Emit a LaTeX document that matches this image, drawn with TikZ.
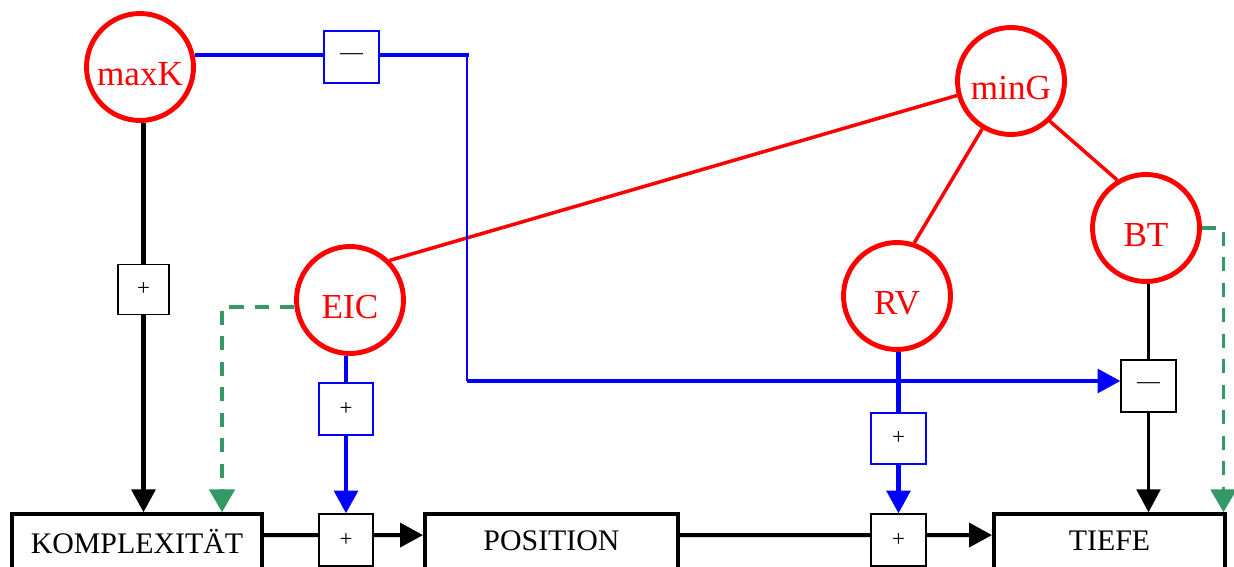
\documentclass[tikz,border=0pt]{standalone}
\usepackage{fontspec}
\setmainfont{Liberation Serif}
\usetikzlibrary{arrows.meta}
\definecolor{goalred}{RGB}{255,0,0}
\definecolor{inflblue}{RGB}{0,0,255}
\definecolor{feedgreen}{RGB}{52,153,102}
\tikzset{
  goal/.style={circle, draw=goalred, line width=2.8pt, text=goalred, minimum size=2.14cm, inner sep=0pt, font=\fontsize{20}{24}\selectfont, text height=21pt, text depth=0pt},
  stage/.style={rectangle, draw, line width=2pt, minimum height=1.3cm, inner sep=0pt, font=\fontsize{17}{20}\selectfont, text depth=6.2pt},
  sign/.style={rectangle, draw, line width=1pt, minimum width=1.09cm, minimum height=1.03cm, inner sep=0pt, font=\fontsize{13}{15}\selectfont},
  bsign/.style={sign, draw=inflblue},
  arr/.style={-{Triangle[length=13pt, width=13.5pt]}},
  link/.style={goalred, line width=2pt},
  flow/.style={line width=2.3pt},
  infl/.style={inflblue, line width=2.3pt},
  feed/.style={feedgreen, line width=2pt, dash pattern=on 8pt off 6.5pt, -{Triangle[length=13pt, width=14.5pt]}}
}

\begin{document}
\begin{tikzpicture}[x=0.02cm, y=-0.02cm]
\useasboundingbox (0,0) rectangle (1234,567);
\node[goal] (maxK) at (140,67) {maxK};
\node[goal] (minG) at (1011,81) {minG};
\node[goal] (EIC) at (350,300) {EIC};
\node[goal] (RV) at (897,296) {RV};
\node[goal] (BT) at (1146,228) {BT};

\node[stage, minimum width=5cm] (komp) at (137,546.5) {KOMPLEXITÄT};
\node[stage, minimum width=5.07cm] (pos) at (551.5,546.5) {POSITION};
\node[stage, minimum width=4.63cm] (tiefe) at (1109.5,546.5) {TIEFE};

\node[bsign] (mt) at (351.5,57) {—};
\node[sign, minimum width=1.03cm, minimum height=1cm] (pl) at (143.5,289.5) {+};
\node[bsign] (pe) at (346,409) {+};
\node[bsign] (pr) at (898.5,438.5) {+};
\node[sign] (bm) at (1148.5,386) {—};
\node[sign] (pk) at (346,540) {+};
\node[sign] (pt) at (898.5,540) {+};

\coordinate (bend) at (467,55);
\coordinate (drop) at (467,381);

\draw[link] (minG.195) -- (EIC.45);
\draw[link] (minG.239) -- (RV.72);
\draw[link] (minG.314) -- (BT.121);

\draw[infl] (maxK.12) -- (maxK.12 -| mt.west);
\draw[infl, line cap=rect] (mt.east |- bend) -- (bend);
\draw[inflblue, line width=1.6pt] (bend) -- (drop);
\draw[infl, arr] (drop) -- (drop -| bm.west);

\draw[infl] (pe |- EIC.south) -- (pe.north); \draw[infl, arr] (pe.south) -- (pk.north);
\draw[infl] (pr |- RV.south) -- (pr.north); \draw[infl, arr] (pr.south) -- (pt.north);

\draw[flow] (pl |- maxK.south) -- (pl.north); \draw[flow, arr] (pl.south) -- (pl |- komp.north);
\draw[line width=1.7pt] (bm |- BT.south) -- (bm.north); \draw[line width=1.7pt, arr] (bm.south) -- (bm |- tiefe.north);

\draw[feed] (EIC.187) -| ([xshift=48.4pt]komp.north);
\draw[feed] (BT.east) -| ([xshift=-2pt]tiefe.north east);

\draw[flow] ([yshift=6.5pt]komp.east) -- ([yshift=2.8pt]pk.west);
\draw[flow, arr] ([yshift=2.8pt]pk.east) -- ([yshift=6.5pt]pos.west);
\draw[flow] ([yshift=6.5pt]pos.east) -- ([yshift=2.8pt]pt.west);
\draw[flow, arr] ([yshift=2.8pt]pt.east) -- ([yshift=6.5pt]tiefe.west);
\end{tikzpicture}
\end{document}
